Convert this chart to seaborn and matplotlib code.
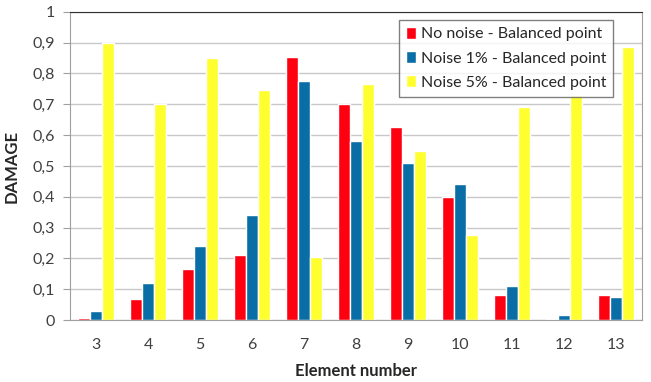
import pandas as pd
import seaborn as sns
import matplotlib.pyplot as plt
from matplotlib.ticker import FuncFormatter, MultipleLocator

# --- data ---
elements = [3, 4, 5, 6, 7, 8, 9, 10, 11, 12, 13]
no_noise = [0.008, 0.07, 0.165, 0.21, 0.855, 0.70, 0.625, 0.40, 0.08, 0.004, 0.08]
noise_1 = [0.03, 0.12, 0.24, 0.34, 0.775, 0.58, 0.51, 0.44, 0.11, 0.018, 0.075]
noise_5 = [0.90, 0.70, 0.85, 0.745, 0.205, 0.765, 0.55, 0.275, 0.69, 0.73, 0.885]

series = ['No noise - Balanced point', 'Noise 1% - Balanced point', 'Noise 5% - Balanced point']
colors = ['#ff0010', '#0a6ea6', '#ffff30']

df = pd.concat([
    pd.DataFrame({'Element': elements, 'Damage': vals, 'Series': name})
    for name, vals in zip(series, [no_noise, noise_1, noise_5])
])

sns.set_style("white")
plt.rcParams['font.family'] = ['Lato', 'DejaVu Sans']


def comma_fmt(v, pos):
    if abs(v - round(v)) < 1e-9:
        return f'{int(round(v))}'
    return f'{v:.1f}'.replace('.', ',')


fig = plt.figure(figsize=(6.51, 3.82), dpi=100)
ax = fig.add_axes([0.1075, 0.162, 0.879, 0.807])

sns.barplot(data=df, x='Element', y='Damage', hue='Series', palette=colors,
            width=0.7, saturation=1, ax=ax, legend=True)

ax.set_ylim(0, 1)
ax.set_xlim(-0.5, len(elements) - 0.5)
ax.yaxis.set_major_locator(MultipleLocator(0.1))
ax.yaxis.set_major_formatter(FuncFormatter(comma_fmt))
ax.grid(axis='y', color='#c8c8c8', linewidth=1)
ax.set_axisbelow(True)

# Excel-style ticks between categories
ax.set_xticks(range(len(elements)))
ax.set_xticks([i - 0.5 for i in range(len(elements) + 1)], minor=True)
ax.tick_params(axis='x', which='major', length=0, labelsize=11.5, colors='#404040', pad=13)
ax.tick_params(axis='x', which='minor', length=5, color='#a0a0a0', direction='out')
ax.tick_params(axis='y', length=5, color='#a0a0a0', labelsize=11.5, colors='#404040',
               direction='out', left=True, pad=6)

for side in ['left', 'bottom', 'right']:
    ax.spines[side].set_color('#a0a0a0')
ax.spines['top'].set_color('#303030')

ax.set_xlabel('Element number', fontsize=12, fontweight='bold', labelpad=8)
ax.set_ylabel('DAMAGE', fontsize=12, fontweight='bold', labelpad=9)

leg = ax.legend(loc='upper right', bbox_to_anchor=(0.955, 0.985), fontsize=11.5,
                frameon=True, fancybox=False, edgecolor='#606060', handlelength=0.6,
                handleheight=0.75, handletextpad=0.3, borderpad=0.45, labelspacing=0.62,
                borderaxespad=0.2)
leg.get_frame().set_linewidth(1)

plt.savefig('out.png', dpi=100)
